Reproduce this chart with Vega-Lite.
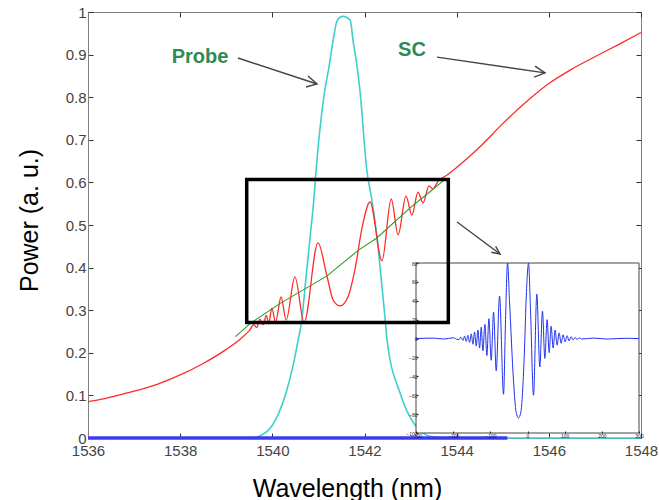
{
  "$schema": "https://vega.github.io/schema/vega-lite/v6.json",
  "width": 553,
  "height": 426,
  "autosize": {"type": "none"},
  "padding": {"left": 88, "top": 12, "right": 18, "bottom": 62},
  "background": "white",
  "config": {
    "view": {"stroke": "#808080", "strokeWidth": 1},
    "font": "Liberation Sans",
    "axis": {"labelFont": "Liberation Sans", "titleFont": "Liberation Sans", "grid": false}
  },
  "datasets": {
    "sc": [
      {"x": 1536.0, "y": 0.085}, {"x": 1536.3, "y": 0.091}, {"x": 1536.6, "y": 0.099}, {"x": 1537.0, "y": 0.110},
      {"x": 1537.5, "y": 0.126}, {"x": 1538.0, "y": 0.148}, {"x": 1538.5, "y": 0.175}, {"x": 1539.0, "y": 0.208},
      {"x": 1539.3, "y": 0.232}, {"x": 1539.5, "y": 0.252}, {"x": 1539.6, "y": 0.266}, {"x": 1539.66, "y": 0.259},
      {"x": 1539.73, "y": 0.279}, {"x": 1539.8, "y": 0.266}, {"x": 1539.87, "y": 0.288}, {"x": 1539.92, "y": 0.268},
      {"x": 1539.99, "y": 0.305}, {"x": 1540.07, "y": 0.272}, {"x": 1540.19, "y": 0.331}, {"x": 1540.30, "y": 0.277},
      {"x": 1540.49, "y": 0.378}, {"x": 1540.69, "y": 0.272}, {"x": 1540.99, "y": 0.458}, {"x": 1541.19, "y": 0.378},
      {"x": 1541.32, "y": 0.324}, {"x": 1541.47, "y": 0.310}, {"x": 1541.64, "y": 0.331}, {"x": 1541.79, "y": 0.394},
      {"x": 1541.95, "y": 0.495}, {"x": 1542.12, "y": 0.554}, {"x": 1542.38, "y": 0.416}, {"x": 1542.58, "y": 0.561},
      {"x": 1542.73, "y": 0.477}, {"x": 1542.90, "y": 0.568}, {"x": 1543.03, "y": 0.523}, {"x": 1543.16, "y": 0.577},
      {"x": 1543.27, "y": 0.552}, {"x": 1543.40, "y": 0.592}, {"x": 1543.48, "y": 0.585}, {"x": 1543.6, "y": 0.603},
      {"x": 1543.8, "y": 0.618}, {"x": 1544.0, "y": 0.635}, {"x": 1544.5, "y": 0.683}, {"x": 1545.0, "y": 0.738},
      {"x": 1545.5, "y": 0.788}, {"x": 1546.0, "y": 0.832}, {"x": 1546.5, "y": 0.866}, {"x": 1547.0, "y": 0.895},
      {"x": 1547.5, "y": 0.923}, {"x": 1548.0, "y": 0.952}
    ],
    "trend": [
      {"x": 1539.2, "y": 0.238}, {"x": 1539.52, "y": 0.269}, {"x": 1540.17, "y": 0.316}, {"x": 1541.18, "y": 0.380},
      {"x": 1541.87, "y": 0.441}, {"x": 1542.26, "y": 0.469}, {"x": 1543.02, "y": 0.543}, {"x": 1543.42, "y": 0.578},
      {"x": 1543.78, "y": 0.610}
    ],
    "probe": [
      {"x": 1536.0, "y": 0.0}, {"x": 1539.5, "y": 0.0}, {"x": 1539.75, "y": 0.006}, {"x": 1540.0, "y": 0.03},
      {"x": 1540.28, "y": 0.10}, {"x": 1540.45, "y": 0.17}, {"x": 1540.56, "y": 0.23}, {"x": 1540.64, "y": 0.277},
      {"x": 1540.71, "y": 0.354}, {"x": 1540.82, "y": 0.472}, {"x": 1540.90, "y": 0.559}, {"x": 1540.95, "y": 0.629},
      {"x": 1541.14, "y": 0.817}, {"x": 1541.23, "y": 0.871}, {"x": 1541.32, "y": 0.934}, {"x": 1541.41, "y": 0.981},
      {"x": 1541.53, "y": 0.99}, {"x": 1541.69, "y": 0.981}, {"x": 1541.75, "y": 0.934}, {"x": 1541.84, "y": 0.871},
      {"x": 1541.90, "y": 0.817}, {"x": 1542.05, "y": 0.629}, {"x": 1542.16, "y": 0.559}, {"x": 1542.27, "y": 0.472},
      {"x": 1542.38, "y": 0.354}, {"x": 1542.45, "y": 0.277}, {"x": 1542.49, "y": 0.23}, {"x": 1542.77, "y": 0.106},
      {"x": 1543.10, "y": 0.03}, {"x": 1543.49, "y": 0.002}, {"x": 1543.8, "y": 0.0}, {"x": 1548.0, "y": 0.0}
    ],
    "base": [
      {"x": 1536.0, "y": 0.0}, {"x": 1545.1, "y": 0.0}
    ],
    "pulse": [
      {"u": -300, "v": 0}, {"u": -252.5, "v": 0.5}, {"u": -225.7, "v": -0.5}, {"u": -198.8, "v": 0.8}, {"u": -189.9, "v": -0.8},
      {"u": -184.5, "v": -1}, {"u": -179.1, "v": 1.5}, {"u": -173.7, "v": -2}, {"u": -169.3, "v": 2.5}, {"u": -164.8, "v": -3},
      {"u": -160.3, "v": 3.5}, {"u": -155.8, "v": -4}, {"u": -151.3, "v": 5}, {"u": -146.9, "v": -6}, {"u": -142.4, "v": 7},
      {"u": -137.9, "v": -8}, {"u": -133.4, "v": 9}, {"u": -128.9, "v": -10}, {"u": -124.5, "v": 12}, {"u": -120.0, "v": -13},
      {"u": -114.6, "v": 15}, {"u": -109.3, "v": -18}, {"u": -103.9, "v": 21}, {"u": -97.6, "v": -23}, {"u": -91.3, "v": 28},
      {"u": -84.2, "v": -34}, {"u": -75.2, "v": 45}, {"u": -64.5, "v": -59}, {"u": -59.1, "v": 20}, {"u": -53.7, "v": 80},
      {"u": -48.4, "v": 40}, {"u": -37.6, "v": -45}, {"u": -30.5, "v": -78}, {"u": -24.2, "v": -84}, {"u": -17.9, "v": -78},
      {"u": -8.9, "v": -20}, {"u": -2.7, "v": 50}, {"u": 2.7, "v": 80}, {"u": 8.1, "v": 30}, {"u": 16.1, "v": -60},
      {"u": 25.1, "v": 47}, {"u": 33.1, "v": -30}, {"u": 40.3, "v": 29}, {"u": 46.6, "v": -21}, {"u": 52.8, "v": 20},
      {"u": 58.2, "v": -15}, {"u": 63.6, "v": 13}, {"u": 69.0, "v": -10}, {"u": 74.3, "v": 9}, {"u": 79.7, "v": -7},
      {"u": 85.1, "v": 6}, {"u": 90.4, "v": -5}, {"u": 95.8, "v": 4}, {"u": 101.2, "v": -3.5}, {"u": 106.6, "v": 3},
      {"u": 111.9, "v": -2.5}, {"u": 117.3, "v": 2}, {"u": 122.7, "v": -1.5}, {"u": 128.1, "v": 1.2}, {"u": 133.4, "v": -1},
      {"u": 138.8, "v": 0.8}, {"u": 146.0, "v": -0.5}, {"u": 177.3, "v": 0.5}, {"u": 213.1, "v": -0.5}, {"u": 266.9, "v": 0.3},
      {"u": 300, "v": 0}
    ],
    "frame": [{"u1": -300, "u2": 300, "v1": -100, "v2": 80}],
    "box": [{"x1": 1539.444, "x2": 1543.819, "y1": 0.271, "y2": 0.607}],
    "arrows": [
      {"seg": "a1s", "o": 1, "x": 1539.255, "y": 0.892}, {"seg": "a1s", "o": 2, "x": 1540.970, "y": 0.831},
      {"seg": "a1h", "o": 1, "x": 1540.774, "y": 0.850}, {"seg": "a1h", "o": 2, "x": 1540.970, "y": 0.831}, {"seg": "a1h", "o": 3, "x": 1540.731, "y": 0.824},
      {"seg": "a2s", "o": 1, "x": 1543.574, "y": 0.894}, {"seg": "a2s", "o": 2, "x": 1545.918, "y": 0.857},
      {"seg": "a2h", "o": 1, "x": 1545.700, "y": 0.873}, {"seg": "a2h", "o": 2, "x": 1545.918, "y": 0.857}, {"seg": "a2h", "o": 3, "x": 1545.679, "y": 0.847},
      {"seg": "a3s", "o": 1, "x": 1544.008, "y": 0.507}, {"seg": "a3s", "o": 2, "x": 1544.941, "y": 0.432},
      {"seg": "a3h", "o": 1, "x": 1544.846, "y": 0.450}, {"seg": "a3h", "o": 2, "x": 1544.941, "y": 0.432}, {"seg": "a3h", "o": 3, "x": 1544.750, "y": 0.436}
    ],
    "labels": [
      {"x": 1538.43, "y": 0.894, "t": "Probe"},
      {"x": 1543.03, "y": 0.911, "t": "SC"}
    ]
  },
  "layer": [
    {
      "encoding": {
        "x": {"field": "x", "type": "quantitative", "scale": {"domain": [1536, 1548], "nice": false, "zero": false},
          "axis": {"values": [1536, 1538, 1540, 1542, 1544, 1546, 1548], "format": "d", "title": "Wavelength (nm)",
            "tickSize": -5, "tickColor": "#333", "domainColor": "#808080", "labelColor": "#444", "labelFontSize": 15,
            "labelPadding": 10, "labelFlush": false, "titleFontSize": 25, "titleFontWeight": "normal", "titleColor": "#000",
            "titleX": 259, "titleY": 58, "titleBaseline": "alphabetic"}},
        "y": {"field": "y", "type": "quantitative", "scale": {"domain": [0, 1], "nice": false},
          "axis": {"values": [0, 0.1, 0.2, 0.3, 0.4, 0.5, 0.6, 0.7, 0.8, 0.9, 1], "format": ".1~f", "title": "Power (a. u.)",
            "tickSize": -5, "tickColor": "#333", "domainColor": "#808080", "labelColor": "#444", "labelFontSize": 15,
            "labelPadding": 7, "labelFlush": false, "titleFontSize": 25, "titleFontWeight": "normal", "titleColor": "#000",
            "titleX": -59, "titleY": 208, "titleBaseline": "middle"}}
      },
      "layer": [
        {"data": {"name": "probe"}, "mark": {"type": "line", "color": "#3fcfcf", "strokeWidth": 1.6, "interpolate": "monotone"}},
        {"data": {"name": "sc"}, "mark": {"type": "line", "color": "#ff2a2a", "strokeWidth": 1.3, "interpolate": "monotone"}},
        {"data": {"name": "trend"}, "mark": {"type": "line", "color": "#2f9a2f", "strokeWidth": 1.1}},
        {"data": {"name": "base"}, "mark": {"type": "line", "color": "#3a3af0", "strokeWidth": 3.5}}
      ]
    },
    {
      "layer": [
        {"data": {"name": "frame"},
          "mark": {"type": "rect", "fill": "white", "stroke": "#444", "strokeWidth": 1},
          "encoding": {
            "x": {"field": "u1", "type": "quantitative", "scale": {"domain": [-300, 300], "range": [328, 551], "nice": false, "zero": false},
              "axis": {"orient": "bottom", "offset": -5, "values": [-300, -200, -100, 0, 100, 200, 300], "title": null, "domain": false,
                "tickSize": -2, "tickColor": "#222", "labelFontSize": 5, "labelColor": "#222", "labelPadding": 2, "labelFlush": false, "labelOverlap": false, "zindex": 1}},
            "x2": {"field": "u2"},
            "y": {"field": "v1", "type": "quantitative", "scale": {"domain": [-100, 80], "range": [421, 251], "nice": false, "zero": false},
              "axis": {"orient": "left", "offset": -328, "values": [-100, -80, -60, -40, -20, 0, 20, 40, 60, 80], "title": null, "domain": false,
                "tickSize": -2, "tickColor": "#222", "labelFontSize": 5, "labelColor": "#222", "labelPadding": 1, "labelFlush": false, "labelOverlap": false, "zindex": 1}},
            "y2": {"field": "v2"}
          }},
        {"data": {"name": "pulse"},
          "mark": {"type": "line", "color": "#2233ee", "strokeWidth": 1, "interpolate": "monotone", "clip": true},
          "encoding": {
            "x": {"field": "u", "type": "quantitative"},
            "y": {"field": "v", "type": "quantitative"}
          }}
      ]
    },
    {
      "encoding": {
        "x": {"field": "x", "type": "quantitative", "scale": {"domain": [1536, 1548], "nice": false, "zero": false},
          "axis": {"orient": "top", "values": [1536, 1538, 1540, 1542, 1544, 1546, 1548], "labels": false, "title": null, "domain": false, "tickSize": -5, "tickColor": "#333"}},
        "y": {"field": "y", "type": "quantitative", "scale": {"domain": [0, 1], "nice": false},
          "axis": {"orient": "right", "values": [0, 0.1, 0.2, 0.3, 0.4, 0.5, 0.6, 0.7, 0.8, 0.9, 1], "labels": false, "title": null, "domain": false, "tickSize": -5, "tickColor": "#333"}}
      },
      "layer": [
        {"data": {"name": "box"},
          "mark": {"type": "rect", "fill": null, "fillOpacity": 0, "stroke": "#000", "strokeWidth": 3.5},
          "encoding": {"x": {"field": "x1", "type": "quantitative"}, "x2": {"field": "x2"}, "y": {"field": "y1", "type": "quantitative"}, "y2": {"field": "y2"}}},
        {"data": {"name": "arrows"},
          "mark": {"type": "line", "color": "#444", "strokeWidth": 1.4},
          "encoding": {"detail": {"field": "seg"}, "order": {"field": "o", "type": "quantitative"}}},
        {"data": {"name": "labels"},
          "mark": {"type": "text", "font": "Liberation Sans", "fontSize": 20, "fontWeight": "bold", "color": "#2e8b57", "align": "center", "baseline": "middle"},
          "encoding": {"text": {"field": "t"}}}
      ]
    }
  ],
  "resolve": {"scale": {"x": "independent", "y": "independent"}, "axis": {"x": "independent", "y": "independent"}}
}
